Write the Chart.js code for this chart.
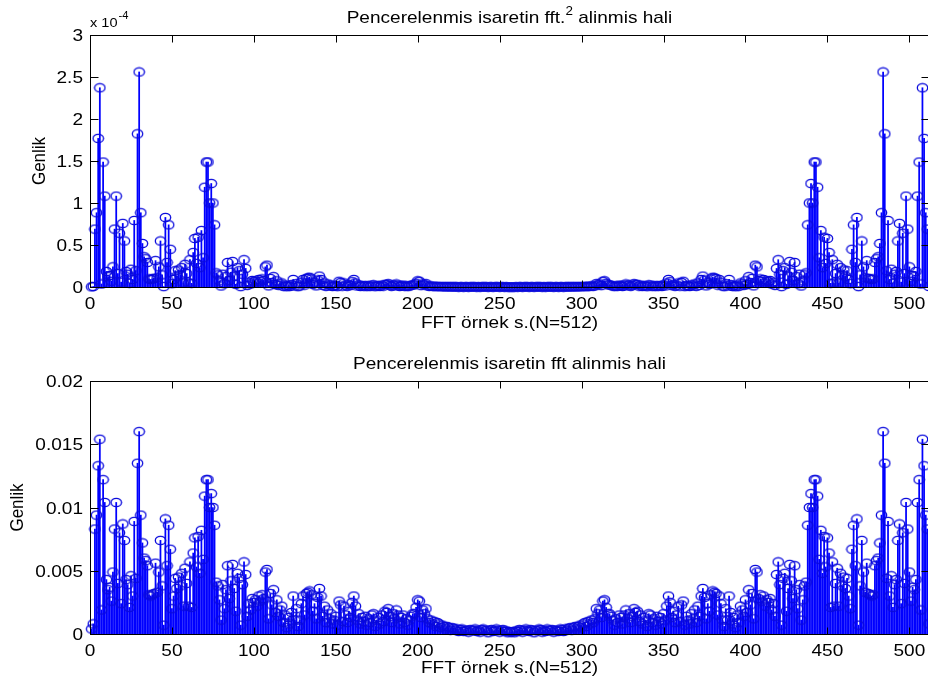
<!DOCTYPE html>
<html>
<head>
<meta charset="utf-8">
<script src="https://cdn.jsdelivr.net/npm/chart.js@4.4.1/dist/chart.umd.min.js"></script>
<style>
html, body { margin: 0; padding: 0; background: #fff; width: 928px; height: 681px; overflow: hidden; }
canvas { position: absolute; left: 0; top: 0; }
</style>
</head>
<body>
<canvas id="sqChart" width="940" height="681"></canvas>
<canvas id="magChart" width="940" height="681"></canvas>
<script>
// FFT sample index (MATLAB 1..512)
const sampleIdx = Array.from({ length: 512 }, (_, i) => i + 1);

// |X(k)|, windowed signal
const fftMag = [
  0.0004,0.0008,0.0083,0.0094,0.0133,0.0154,0.0019,0.0122,0.0104,0.0043,
  0.0035,0.0037,0.0026,0.0049,0.0083,0.0104,0.0040,0.0080,0.0024,0.0087,
  0.0074,0.0043,0.0039,0.0021,0.0046,0.0030,0.0089,0.0044,0.0135,0.0160,
  0.0094,0.0072,0.0060,0.0058,0.0054,0.0031,0.0030,0.0031,0.0032,0.0056,
  0.0033,0.0049,0.0074,0.0038,0.0007,0.0091,0.0054,0.0086,0.0067,0.0020,
  0.0030,0.0044,0.0036,0.0045,0.0038,0.0048,0.0022,0.0052,0.0040,0.0022,
  0.0057,0.0021,0.0064,0.0076,0.0053,0.0077,0.0048,0.0082,0.0059,0.0109,
  0.0122,0.0122,0.0100,0.0111,0.0100,0.0086,0.0041,0.0038,0.0027,0.0011,
  0.0039,0.0020,0.0035,0.0054,0.0028,0.0042,0.0055,0.0036,0.0018,0.0048,
  0.0044,0.0007,0.0039,0.0057,0.0047,0.0014,0.0024,0.0019,0.0028,0.0025,
  0.0027,0.0022,0.0030,0.0026,0.0031,0.0028,0.0049,0.0051,0.0012,0.0032,
  0.0023,0.0035,0.0017,0.0027,0.0014,0.0019,0.0022,0.0009,0.0015,0.0005,
  0.0013,0.0008,0.0017,0.0030,0.0011,0.0020,0.0006,0.0011,0.0024,0.0030,
  0.0015,0.0032,0.0033,0.0034,0.0031,0.0018,0.0024,0.0012,0.0029,0.0036,
  0.0030,0.0014,0.0022,0.0009,0.0019,0.0012,0.0016,0.0008,0.0011,0.0014,
  0.0007,0.0026,0.0023,0.0010,0.0022,0.0015,0.0009,0.0018,0.0013,0.0025,
  0.0030,0.0022,0.0011,0.0016,0.0008,0.0013,0.0010,0.0014,0.0007,0.0012,
  0.0009,0.0015,0.0016,0.0006,0.0011,0.0013,0.0008,0.0015,0.0010,0.0018,
  0.0017,0.0020,0.0014,0.0009,0.0016,0.0012,0.0019,0.0015,0.0008,0.0013,
  0.0015,0.0009,0.0012,0.0007,0.0011,0.0014,0.0016,0.0016,0.0021,0.0027,
  0.0026,0.0013,0.0019,0.0016,0.0020,0.0012,0.0009,0.0011,0.0008,0.0010,
  0.0006,0.0009,0.0008,0.0005,0.0007,0.0006,0.0004,0.0006,0.0005,0.0003,
  0.0005,0.00045,0.0003,0.0004,0.0002,0.00035,0.0004,0.0002,0.0003,0.0003,
  0.00015,0.00035,0.00025,0.0003,0.0004,0.0002,0.0003,0.00015,0.00035,0.0004,
  0.00025,0.0003,0.0001,0.0003,0.00035,0.0002,0.00025,0.0004,0.0003,0.00015,
  0.0003,0.00035,0.0002,0.00025,0.0001,0.0002,0.00015,
  0.0002,0.0001,0.00025,0.0002,0.00035,0.0003,
  0.00015,0.0003,0.0004,0.00025,0.0002,0.00035,0.0003,0.0001,0.0003,0.00025,
  0.0004,0.00035,0.00015,0.0003,0.0002,0.0004,0.0003,0.00025,0.00035,0.00015,
  0.0003,0.0003,0.0002,0.0004,0.00035,0.0002,0.0004,0.0003,0.00045,0.0005,
  0.0003,0.0005,0.0006,0.0004,0.0006,0.0007,0.0005,0.0008,0.0009,0.0006,
  0.0010,0.0008,0.0011,0.0009,0.0012,0.0020,0.0016,0.0019,0.0013,0.0026,
  0.0027,0.0021,0.0016,0.0016,0.0014,0.0011,0.0007,0.0012,0.0009,0.0015,
  0.0013,0.0008,0.0015,0.0019,0.0012,0.0016,0.0009,0.0014,0.0020,0.0017,
  0.0018,0.0010,0.0015,0.0008,0.0013,0.0011,0.0006,0.0016,0.0015,0.0009,
  0.0012,0.0007,0.0014,0.0010,0.0013,0.0008,0.0016,0.0011,0.0022,0.0030,
  0.0025,0.0013,0.0018,0.0009,0.0015,0.0022,0.0010,0.0023,0.0026,0.0007,
  0.0014,0.0011,0.0008,0.0016,0.0012,0.0019,0.0009,0.0022,0.0014,0.0030,
  0.0036,0.0029,0.0012,0.0024,0.0018,0.0031,0.0034,0.0033,0.0032,0.0015,
  0.0030,0.0024,0.0011,0.0006,0.0020,0.0011,0.0030,0.0017,0.0008,0.0013,
  0.0005,0.0015,0.0009,0.0022,0.0019,0.0014,0.0027,0.0017,0.0035,0.0023,
  0.0032,0.0012,0.0051,0.0049,0.0028,0.0031,0.0026,0.0030,0.0022,0.0027,
  0.0025,0.0028,0.0019,0.0024,0.0014,0.0047,0.0057,0.0039,0.0007,0.0044,
  0.0048,0.0018,0.0036,0.0055,0.0042,0.0028,0.0054,0.0035,0.0020,0.0039,
  0.0011,0.0027,0.0038,0.0041,0.0086,0.0100,0.0111,0.0100,0.0122,0.0122,
  0.0109,0.0059,0.0082,0.0048,0.0077,0.0053,0.0076,0.0064,0.0021,0.0057,
  0.0022,0.0040,0.0052,0.0022,0.0048,0.0038,0.0045,0.0036,0.0044,0.0030,
  0.0020,0.0067,0.0086,0.0054,0.0091,0.0007,0.0038,0.0074,0.0049,0.0033,
  0.0056,0.0032,0.0031,0.0030,0.0031,0.0054,0.0058,0.0060,0.0072,0.0094,
  0.0160,0.0135,0.0044,0.0089,0.0030,0.0046,0.0021,0.0039,0.0043,0.0074,
  0.0087,0.0024,0.0080,0.0040,0.0104,0.0083,0.0049,0.0026,0.0037,0.0035,
  0.0043,0.0104,0.0122,0.0019,0.0154,0.0133,0.0094,0.0083,0.0008
];

// |X(k)|^2, in units of 1e-4
const fftSq = [
  0.002,0.006,0.689,0.884,1.769,2.372,0.036,1.488,1.082,0.185,
  0.123,0.137,0.068,0.240,0.689,1.082,0.160,0.640,0.058,0.757,
  0.548,0.185,0.152,0.044,0.212,0.090,0.792,0.194,1.823,2.560,
  0.884,0.518,0.360,0.336,0.292,0.096,0.090,0.096,0.102,0.314,
  0.109,0.240,0.548,0.144,0.005,0.828,0.292,0.740,0.449,0.040,
  0.090,0.194,0.130,0.203,0.144,0.230,0.048,0.270,0.160,0.048,
  0.325,0.044,0.410,0.578,0.281,0.593,0.230,0.672,0.348,1.188,
  1.488,1.488,1.000,1.232,1.000,0.740,0.168,0.144,0.073,0.012,
  0.152,0.040,0.123,0.292,0.078,0.176,0.303,0.130,0.032,0.230,
  0.194,0.005,0.152,0.325,0.221,0.020,0.058,0.036,0.078,0.063,
  0.073,0.048,0.090,0.068,0.096,0.078,0.240,0.260,0.014,0.102,
  0.053,0.123,0.029,0.073,0.020,0.036,0.048,0.008,0.023,0.003,
  0.017,0.006,0.029,0.090,0.012,0.040,0.004,0.012,0.058,0.090,
  0.023,0.102,0.109,0.116,0.096,0.032,0.058,0.014,0.084,0.130,
  0.090,0.020,0.048,0.008,0.036,0.014,0.026,0.006,0.012,0.020,
  0.005,0.068,0.053,0.010,0.048,0.023,0.008,0.032,0.017,0.063,
  0.090,0.048,0.012,0.026,0.006,0.017,0.010,0.020,0.005,0.014,
  0.008,0.023,0.026,0.004,0.012,0.017,0.006,0.023,0.010,0.032,
  0.029,0.040,0.020,0.008,0.026,0.014,0.036,0.023,0.006,0.017,
  0.023,0.008,0.014,0.005,0.012,0.020,0.026,0.026,0.044,0.073,
  0.068,0.017,0.036,0.026,0.040,0.014,0.008,0.012,0.006,0.010,
  0.004,0.008,0.006,0.003,0.005,0.004,0.002,0.004,0.003,0.001,
  0.003,0.002,0.001,0.002,0.000,0.001,0.002,0.000,0.001,0.001,
  0.000,0.001,0.001,0.001,0.002,0.000,0.001,0.000,0.001,0.002,
  0.001,0.001,0.000,0.001,0.001,0.000,0.001,0.002,0.001,0.000,
  0.001,0.001,0.000,0.001,0.000,0.000,0.000,
  0.000,0.000,0.001,0.000,0.001,0.001,
  0.000,0.001,0.002,0.001,0.000,0.001,0.001,0.000,0.001,0.001,
  0.002,0.001,0.000,0.001,0.000,0.002,0.001,0.001,0.001,0.000,
  0.001,0.001,0.000,0.002,0.001,0.000,0.002,0.001,0.002,0.003,
  0.001,0.003,0.004,0.002,0.004,0.005,0.003,0.006,0.008,0.004,
  0.010,0.006,0.012,0.008,0.014,0.040,0.026,0.036,0.017,0.068,
  0.073,0.044,0.026,0.026,0.020,0.012,0.005,0.014,0.008,0.023,
  0.017,0.006,0.023,0.036,0.014,0.026,0.008,0.020,0.040,0.029,
  0.032,0.010,0.023,0.006,0.017,0.012,0.004,0.026,0.023,0.008,
  0.014,0.005,0.020,0.010,0.017,0.006,0.026,0.012,0.048,0.090,
  0.063,0.017,0.032,0.008,0.023,0.048,0.010,0.053,0.068,0.005,
  0.020,0.012,0.006,0.026,0.014,0.036,0.008,0.048,0.020,0.090,
  0.130,0.084,0.014,0.058,0.032,0.096,0.116,0.109,0.102,0.023,
  0.090,0.058,0.012,0.004,0.040,0.012,0.090,0.029,0.006,0.017,
  0.003,0.023,0.008,0.048,0.036,0.020,0.073,0.029,0.123,0.053,
  0.102,0.014,0.260,0.240,0.078,0.096,0.068,0.090,0.048,0.073,
  0.063,0.078,0.036,0.058,0.020,0.221,0.325,0.152,0.005,0.194,
  0.230,0.032,0.130,0.303,0.176,0.078,0.292,0.123,0.040,0.152,
  0.012,0.073,0.144,0.168,0.740,1.000,1.232,1.000,1.488,1.488,
  1.188,0.348,0.672,0.230,0.593,0.281,0.578,0.410,0.044,0.325,
  0.048,0.160,0.270,0.048,0.230,0.144,0.203,0.130,0.194,0.090,
  0.040,0.449,0.740,0.292,0.828,0.005,0.144,0.548,0.240,0.109,
  0.314,0.102,0.096,0.090,0.096,0.292,0.336,0.360,0.518,0.884,
  2.560,1.823,0.194,0.792,0.090,0.212,0.044,0.152,0.185,0.548,
  0.757,0.058,0.640,0.160,1.082,0.689,0.240,0.068,0.137,0.123,
  0.185,1.082,1.488,0.036,2.372,1.769,0.884,0.689,0.006
];

const xTicks = [0, 50, 100, 150, 200, 250, 300, 350, 400, 450, 500];
const yTicksSq = [0, 0.5, 1, 1.5, 2, 2.5, 3];
const yTicksMag = [0, 0.005, 0.01, 0.015, 0.02];

const FONT = '"Liberation Sans", Arial, sans-serif';
const SX = 1.12; // the picture is a bit wider than tall

function txt(ctx, s, x, y, align, size, rotate) {
  ctx.save();
  ctx.translate(x, y);
  ctx.scale(SX, 1);
  if (rotate) ctx.rotate(-Math.PI / 2);
  ctx.font = size + 'px ' + FONT;
  ctx.textAlign = align;
  ctx.textBaseline = 'alphabetic';
  ctx.fillStyle = '#000';
  ctx.fillText(s, 0, 0);
  ctx.restore();
}

function wid(ctx, s, size) {
  ctx.font = size + 'px ' + FONT;
  return ctx.measureText(s).width * SX;
}

// ellipse marker like the stretched matlab 'o'
const marker = document.createElement('canvas');
marker.width = 13; marker.height = 11;
(function () {
  const c = marker.getContext('2d');
  c.strokeStyle = 'rgb(10,10,220)';
  c.lineWidth = 1.3;
  c.beginPath();
  c.ellipse(6.5, 5.5, 5.2, 4.2, 0, 0, Math.PI * 2);
  c.stroke();
})();

// axes box, inward ticks, labels, stem baseline
const matlabAxes = {
  id: 'matlabAxes',
  beforeDatasetsDraw(chart) {
    const { ctx, chartArea: a, scales: { y } } = chart;
    const y0 = Math.round(y.getPixelForValue(0)) + 0.5;
    ctx.save();
    ctx.strokeStyle = '#0000ff';
    ctx.lineWidth = 1;
    ctx.beginPath();
    ctx.moveTo(a.left, y0);
    ctx.lineTo(a.right, y0);
    ctx.stroke();
    ctx.restore();
  },
  afterDraw(chart, args, o) {
    const { ctx, chartArea: a, scales: { x, y } } = chart;
    const L = Math.round(a.left) + 0.5, R = Math.round(a.right) + 0.5;
    const T = Math.round(a.top) + 0.5, B = Math.round(a.bottom) + 0.5;
    ctx.save();
    ctx.strokeStyle = '#000';
    ctx.lineWidth = 1;
    ctx.strokeRect(L, T, R - L, B - T);
    ctx.beginPath();
    xTicks.forEach(v => {
      const px = Math.round(x.getPixelForValue(v)) + 0.5;
      ctx.moveTo(px, B); ctx.lineTo(px, B - 7);
      ctx.moveTo(px, T); ctx.lineTo(px, T + 7);
    });
    o.yTicks.forEach(v => {
      const py = Math.round(y.getPixelForValue(v)) + 0.5;
      ctx.moveTo(L, py); ctx.lineTo(L + 8, py);
      ctx.moveTo(R, py); ctx.lineTo(R - 8, py);
    });
    ctx.stroke();
    ctx.restore();

    xTicks.forEach(v => txt(ctx, String(v), x.getPixelForValue(v), a.bottom + 22, 'center', 17));
    o.yTicks.forEach(v => txt(ctx, String(v), a.left - 7, y.getPixelForValue(v) + 6, 'right', 17));

    const cx = (a.left + a.right) / 2;
    txt(ctx, o.xLabel, cx, a.bottom + o.xLabelGap, 'center', 17);
    txt(ctx, o.yLabel, o.yLabelX, (a.top + a.bottom) / 2, 'center', 17, true);

    // title, optional superscript
    const w1 = wid(ctx, o.title[0], 17);
    const w2 = o.title[1] ? wid(ctx, o.title[1], 12) : 0;
    const w3 = o.title[2] ? wid(ctx, o.title[2], 17) : 0;
    let tx = cx - (w1 + w2 + w3) / 2;
    const ty = a.top - 12;
    txt(ctx, o.title[0], tx, ty, 'left', 17);
    if (o.title[1]) txt(ctx, o.title[1], tx + w1, ty - 8, 'left', 12);
    if (o.title[2]) txt(ctx, o.title[2], tx + w1 + w2, ty, 'left', 17);

    if (o.exponent) {
      const wx = wid(ctx, 'x 10', 13);
      txt(ctx, 'x 10', a.left, a.top - 8, 'left', 13);
      txt(ctx, o.exponent, a.left + wx + 1, a.top - 16, 'left', 10);
    }
  }
};

function stemChart(id, values, yMax, pad, axesOpts) {
  const pts = sampleIdx.map((k, i) => ({ x: k, y: values[i] }));
  return new Chart(document.getElementById(id), {
    type: 'scatter',
    data: {
      datasets: [
        {
          type: 'scatter',
          data: pts,
          pointStyle: marker,
          pointRadius: 5,
          clip: false,
          order: 0
        },
        {
          type: 'bar',
          data: pts,
          backgroundColor: '#0000ff',
          borderWidth: 0,
          barThickness: 1.1,
          grouped: false,
          order: 1
        }
      ]
    },
    options: {
      responsive: false,
      animation: false,
      devicePixelRatio: 1,
      events: [],
      layout: { padding: pad },
      scales: {
        x: { type: 'linear', display: false, min: 0, max: 512, offset: false, grid: { offset: false } },
        y: { type: 'linear', display: false, min: 0, max: yMax }
      },
      plugins: {
        legend: { display: false },
        tooltip: { enabled: false },
        matlabAxes: axesOpts
      }
    },
    plugins: [matlabAxes]
  });
}

stemChart('sqChart', fftSq, 3, { left: 90, right: 11, top: 35, bottom: 394 }, {
  yTicks: yTicksSq,
  title: ['Pencerelenmis isaretin fft.', '2', ' alinmis hali'],
  xLabel: 'FFT örnek s.(N=512)',
  xLabelGap: 41,
  yLabel: 'Genlik',
  yLabelX: 45,
  exponent: '-4'
});

stemChart('magChart', fftMag, 0.02, { left: 90, right: 11, top: 381, bottom: 47 }, {
  yTicks: yTicksMag,
  title: ['Pencerelenmis isaretin fft alinmis hali'],
  xLabel: 'FFT örnek s.(N=512)',
  xLabelGap: 39,
  yLabel: 'Genlik',
  yLabelX: 23
});
</script>
</body>
</html>
